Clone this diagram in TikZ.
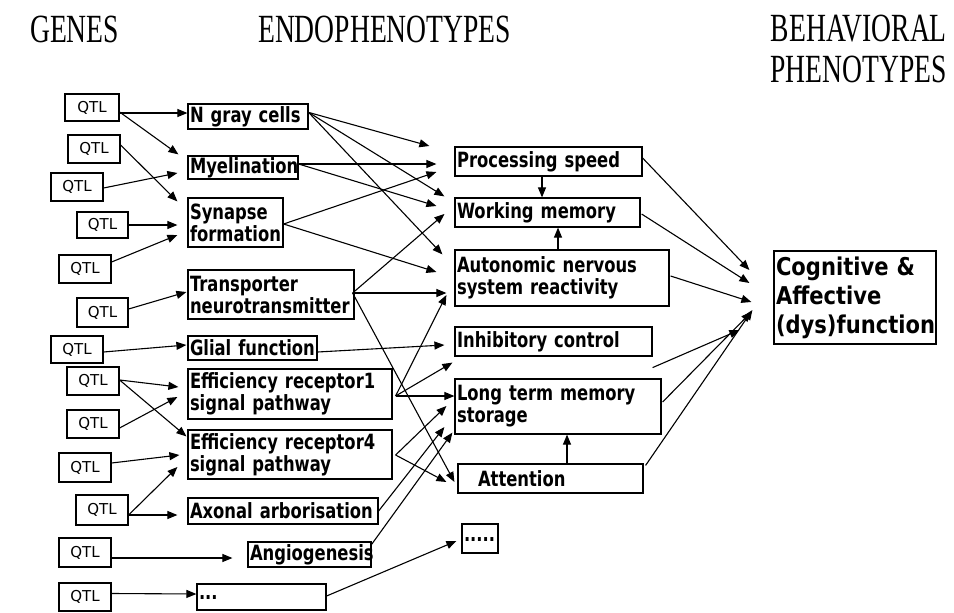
\documentclass[tikz,border=0pt]{standalone}
\usepackage{fontspec}
\setmainfont{Liberation Serif}
\newfontfamily\hdrfont{Liberation Serif}[FakeStretch=0.69]
\newfontfamily\boxfont{DejaVu Sans}[FakeStretch=0.78]
\newfontfamily\bigfont{DejaVu Sans}[FakeStretch=0.86]
\newfontfamily\qfont{DejaVu Sans}
\usetikzlibrary{arrows.meta,calc}
\tikzset{
  ebox/.style={draw,line width=1.2pt,inner xsep=2pt,inner ysep=0pt,align=left,
    font=\boxfont\bfseries\fontsize{21}{22}\selectfont},
  qtl/.style={align=center,font=\qfont\fontsize{15}{16}\selectfont},
  big/.style={font=\bigfont\bfseries\fontsize{24.5}{29}\selectfont},
  hdr/.style={inner sep=0pt,font=\hdrfont\fontsize{40}{40}\selectfont},
  conn/.style={line width=1.1pt,-{Triangle[length=10pt,width=8pt]}}
}
\newcommand\mkbox[7][]{%
  \pgfmathsetmacro\bxw{#5-#3-4}%
  \pgfmathsetmacro\bxh{#6-#4}%
  \node[ebox,#1,text width=\bxw pt,minimum height=\bxh pt] (#2) at ({(#3+#5)/2},{(#4+#6)/2}) {#7};}
\begin{document}
\begin{tikzpicture}[x=1pt,y=-1pt]
\useasboundingbox (0,0) rectangle (954,613);
% headers
\node[hdr,anchor=west] (hg) at (30,29) {GENES};
\node[hdr,anchor=west] (he) at (258,29) {ENDOPHENOTYPES};
\node[hdr,anchor=east] (hb) at (947,29) {BEHAVIORAL};
\node[hdr,anchor=east] (hp) at (947,69) {PHENOTYPES};
% QTL boxes
\mkbox[qtl]{q1}{65}{94}{119}{121}{QTL}
\mkbox[qtl]{q2}{68}{135}{120}{163}{QTL}
\mkbox[qtl]{q3}{51}{173}{103}{201}{QTL}
\mkbox[qtl]{q4}{77}{212}{128}{238}{QTL}
\mkbox[qtl]{q5}{59}{255}{111}{283}{QTL}
\mkbox[qtl]{q6}{77}{298}{128}{327}{QTL}
\mkbox[qtl]{q7}{51}{336}{103}{363}{QTL}
\mkbox[qtl]{q8}{67}{367}{119}{395}{QTL}
\mkbox[qtl]{q9}{67}{410}{119}{438}{QTL}
\mkbox[qtl]{q10}{59}{453}{111}{482}{QTL}
\mkbox[qtl]{q11}{76}{495}{128}{525}{QTL}
\mkbox[qtl]{q12}{59}{538}{111}{567}{QTL}
\mkbox[qtl]{q13}{59}{583}{111}{611}{QTL}
% endophenotype boxes (left column)
\mkbox{ng}{188}{104}{308}{129}{\mbox{N gray cells}}
\mkbox{my}{188}{156}{298}{179}{\mbox{Myelination}}
\mkbox{sy}{188}{198}{283}{247}{\mbox{Synapse}\\\mbox{formation}}
\mkbox{tr}{188}{270}{354}{319}{\mbox{Transporter}\\\mbox{neurotransmitter}}
\mkbox{gl}{188}{336}{317}{360}{\mbox{Glial function}}
\mkbox{e1}{188}{369}{392}{419}{\mbox{Efficiency receptor1}\\\mbox{signal pathway}}
\mkbox{e4}{188}{430}{392}{479}{\mbox{Efficiency receptor4}\\\mbox{signal pathway}}
\mkbox{ax}{188}{498}{378}{524}{\mbox{Axonal arborisation}}
\mkbox{an}{248}{542}{371}{567}{\mbox{Angiogenesis}}
\mkbox{d3}{197}{584}{326}{610}{\raisebox{-4pt}{...}}
% endophenotype boxes (right column)
\mkbox{ps}{455}{147}{642}{176}{\mbox{Processing speed}}
\mkbox{wm}{455}{198}{640}{227}{\mbox{Working memory}}
\mkbox{au}{455}{250}{669}{306}{\mbox{Autonomic nervous}\\\mbox{system reactivity}}
\mkbox{ic}{455}{327}{652}{356}{\mbox{Inhibitory control}}
\mkbox{lt}{455}{379}{661}{434}{\mbox{Long term memory}\\\mbox{storage}}
\mkbox{at}{458}{464}{643}{493}{\hspace*{18pt}\mbox{Attention}}
\mkbox{d5}{462}{524}{498}{553}{\raisebox{-5pt}{.....}}
% behavioural phenotype
\mkbox[big]{cg}{774}{251}{936}{344}{\mbox{Cognitive \&}\\\mbox{Affective}\\\mbox{(dys)function}}
% QTL -> endophenotypes
\draw[conn] ($(q1.east)+(0,5.5)$) -- ($(ng.west)+(0,-3.5)$);
\draw[conn] ($(q1.east)+(0,4.5)$) -- ($(my.north west)+(-9,-1)$);
\draw[conn] ($(q2.east)+(0,-4)$) -- ($(sy.north west)+(-10,4)$);
\draw[conn] ($(q3.east)+(0,1)$) -- ($(my.west)+(-10,5.5)$);
\draw[conn] (q4.east) -- ($(sy.west)+(-10,2.5)$);
\draw[conn] ($(q5.east)+(0,-7)$) -- ($(sy.west)+(-10,12.5)$);
\draw[conn] ($(q6.east)+(0,-3.5)$) -- ($(tr.west)+(-1,-2.5)$);
\draw[conn] ($(q7.east)+(0,2.5)$) -- ($(gl.west)+(-1,-3)$);
\draw[conn] ($(q8.east)+(0,-1)$) -- ($(e1.west)+(-9,-7)$);
\draw[conn] ($(q8.east)+(0,-1)$) -- ($(e4.north west)+(-1,7)$);
\draw[conn] ($(q9.east)+(0,4)$) -- ($(e1.west)+(-10,3)$);
\draw[conn] ($(q10.east)+(0,-4.5)$) -- ($(e4.west)+(-8,0.5)$);
\draw[conn] ($(q11.east)+(0,5)$) -- ($(e4.west)+(-10,12.5)$);
\draw[conn] ($(q11.east)+(0,5)$) -- ($(ax.west)+(-10,4)$);
\draw[conn] ($(q12.east)+(0,5.5)$) -- ($(an.west)+(-15,3.5)$);
\draw[conn] ($(q13.east)+(0,-3.5)$) -- ($(d3.west)+(0,-3)$);
% endophenotype links
\draw[conn] ($(ng.north east)+(0,9)$) -- ($(ps.west)+(-25,-15.5)$);
\draw[conn] ($(ng.north east)+(0,9)$) -- ($(wm.north west)+(-10,-1)$);
\draw[conn] ($(ng.north east)+(0,9)$) -- ($(au.north west)+(-12,5)$);
\draw[conn] ($(my.east)+(0,-3.5)$) -- ($(ps.west)+(-18,2.5)$);
\draw[conn] ($(my.east)+(0,-3.5)$) -- ($(wm.west)+(-18,-6.5)$);
\draw[conn] ($(sy.east)+(0,1.5)$) -- ($(ps.west)+(-18,10.5)$);
\draw[conn] ($(sy.east)+(0,1.5)$) -- ($(au.west)+(-18,-6)$);
\draw[conn] ($(tr.east)+(-2,-1.5)$) -- ($(wm.west)+(-10,1.5)$);
\draw[conn] ($(tr.east)+(-2,-1.5)$) -- ($(au.west)+(-8,15)$);
\draw[conn] ($(tr.east)+(-2,-1.5)$) -- ($(at.west)+(-3,3.5)$);
\draw[conn] ($(gl.east)+(0,4)$) -- ($(ic.west)+(-10,3.5)$);
\draw[conn] ($(e1.east)+(3,2)$) -- ($(au.west)+(-8,17)$);
\draw[conn] ($(e1.east)+(3,2)$) -- ($(ic.south west)+(-2,6)$);
\draw[conn] ($(e1.east)+(3,2)$) -- ($(lt.west)+(0,-10.5)$);
\draw[conn] ($(e4.east)+(3,0.5)$) -- ($(lt.west)+(-8,-0.5)$);
\draw[conn] ($(e4.east)+(3,0.5)$) -- ($(at.west)+(-11,3.5)$);
\draw[conn] (ax.east) -- ($(lt.west)+(-10,20.5)$);
\draw[conn] ($(an.north east)+(0,3)$) -- ($(lt.south west)+(-2,-2)$);
\draw[conn] ($(d3.east)+(0,-1)$) -- ($(d5.west)+(-5,2.5)$);
\draw[conn] ($(ps.south)+(-6.5,0)$) -- ($(wm.north)+(-5.5,0)$);
\draw[conn] ($(au.north)+(-4,0)$) -- ($(wm.south)+(10.5,0)$);
\draw[conn] ($(at.north)+(16.5,0)$) -- ($(lt.south)+(9,0)$);
% to behavioural phenotype
\draw[conn] ($(ps.east)+(0,-3.5)$) -- ($(cg.west)+(-24,-27.5)$);
\draw[conn] ($(wm.east)+(1,1.5)$) -- ($(cg.west)+(-24,-14.5)$);
\draw[conn] ($(au.east)+(1,-2)$) -- ($(cg.west)+(-22,4.5)$);
\draw[conn] ($(ic.south east)+(0,11)$) -- ($(cg.west)+(-34,32.5)$);
\draw[conn] ($(lt.east)+(1,-4.5)$) -- ($(cg.west)+(-22,14.5)$);
\draw[conn] ($(at.north east)+(2,2)$) -- ($(cg.west)+(-21,12.5)$);
\end{tikzpicture}
\end{document}
